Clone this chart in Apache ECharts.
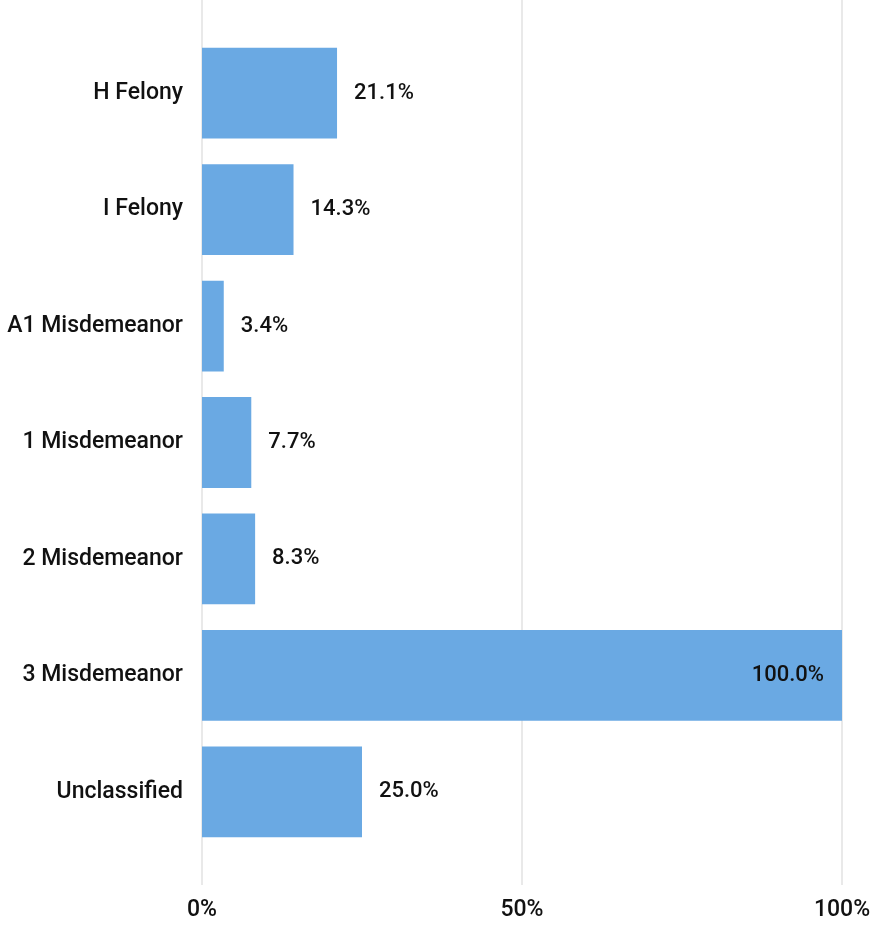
<!DOCTYPE html>
<html>
<head>
<meta charset="utf-8">
<script src="https://cdn.jsdelivr.net/npm/echarts@6/dist/echarts.min.js"></script>
<style>
  html, body { margin: 0; padding: 0; background: #fff; }
  #chart { width: 883px; height: 926px; }
</style>
</head>
<body>
<div id="chart"></div>
<script>
const categories = [
  'H Felony',
  'I Felony',
  'A1 Misdemeanor',
  '1 Misdemeanor',
  '2 Misdemeanor',
  '3 Misdemeanor',
  'Unclassified'
];
const values = [21.1, 14.3, 3.4, 7.7, 8.3, 100.0, 25.0];
const tickValues = [0, 50, 100];

const myChart = echarts.init(document.getElementById('chart'));
const font = 'Roboto, "DejaVu Sans", sans-serif';
const barColor = '#6aa9e3';

// big bars carry their label inside, the rest sit to the right
const barData = values.map(function (v) {
  return {
    value: v,
    label: v > 90 ? { position: 'insideRight', distance: 18 } : { position: 'right', distance: 17 }
  };
});

const option = {
  animation: false,
  grid: [
    // grid 0 only holds the vertical gridlines and the tick labels
    { left: 202, right: 41, top: 0, bottom: 41 },
    // grid 1 holds the bars
    { left: 202, right: 41, top: 35, bottom: 76 }
  ],
  xAxis: [
    {
      gridIndex: 0,
      type: 'value',
      min: 0,
      max: 100,
      interval: 50,
      axisLine: { show: false },
      axisTick: { show: false },
      splitLine: { lineStyle: { color: '#e2e2e2', width: 1.5 } },
      axisLabel: {
        margin: 14,
        fontFamily: font,
        fontSize: 23,
        fontWeight: 500,
        color: '#111',
        formatter: function (v) {
          return tickValues.indexOf(v) >= 0 ? v + '%' : '';
        }
      }
    },
    {
      gridIndex: 1,
      type: 'value',
      min: 0,
      max: 100,
      show: false,
      splitLine: { show: false }
    }
  ],
  yAxis: [
    {
      gridIndex: 0,
      type: 'category',
      data: [''],
      show: false
    },
    {
      gridIndex: 1,
      type: 'category',
      data: categories,
      inverse: true,
      axisLine: { show: false },
      axisTick: { show: false },
      splitLine: { show: false },
      axisLabel: {
        margin: 19,
        fontFamily: font,
        fontSize: 23,
        fontWeight: 500,
        color: '#111',
        padding: [5, 0, 0, 0]
      }
    }
  ],
  series: [
    {
      type: 'bar',
      xAxisIndex: 1,
      yAxisIndex: 1,
      data: barData,
      barCategoryGap: '22%',
      itemStyle: { color: barColor },
      label: {
        show: true,
        fontFamily: font,
        fontSize: 22,
        fontWeight: 500,
        color: '#111',
        padding: [5, 0, 0, 0],
        formatter: function (p) {
          return p.value.toFixed(1) + '%';
        }
      }
    }
  ]
};

option && myChart.setOption(option);
</script>
</body>
</html>
